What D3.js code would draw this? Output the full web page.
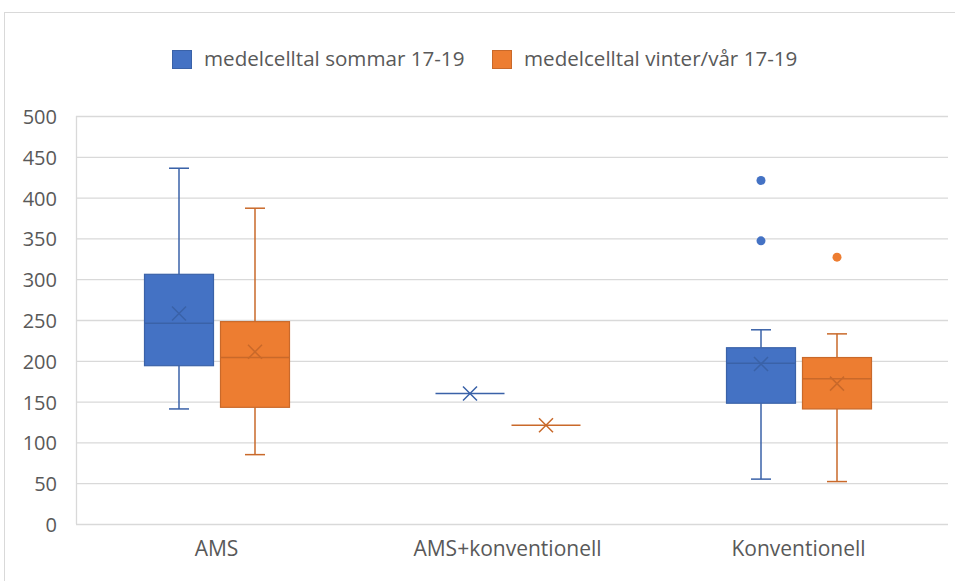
<!DOCTYPE html>
<html>
<head>
<meta charset="utf-8">
<script src="https://cdn.jsdelivr.net/npm/d3@7"></script>
<style>
  body { margin: 0; background: #fff; }
  svg text { font-family: "Open Sans", "Noto Sans", sans-serif; fill: #595959; }
</style>
</head>
<body>
<svg id="chart" width="955" height="581"></svg>
<script>
const categories = ["AMS", "AMS+konventionell", "Konventionell"];
const seriesNames = ["medelcelltal sommar 17-19", "medelcelltal vinter/vår 17-19"];
const yTicks = [0, 50, 100, 150, 200, 250, 300, 350, 400, 450, 500];

// per category: [min, q1, median, q3, max, mean]
const sommarStats = [
  [141, 194, 246, 306, 436, 258],
  [160, 160, 160, 160, 160, 160],
  [55, 148, 197, 216, 238, 196]
];
const vinterStats = [
  [85, 143, 204, 248, 387, 211],
  [121, 121, 121, 121, 121, 121],
  [52, 141, 178, 204, 233, 172]
];
const sommarOutliers = [[], [], [421, 347]];
const vinterOutliers = [[], [], [327]];

const fills = ["#4472C4", "#ED7D31"];
const strokes = ["#3A62A8", "#C9692A"];

const svg = d3.select("#chart");

// chart frame
svg.append("rect")
  .attr("x", 4.5).attr("y", 12.5)
  .attr("width", 1000).attr("height", 1000)
  .attr("fill", "none").attr("stroke", "#d9d9d9");

const plotLeft = 76, plotRight = 948;
const y = d3.scaleLinear().domain([0, 500]).range([524, 116]);
const x = d3.scaleBand().domain(categories).range([71, 944]);
const sub = d3.scaleBand().domain(seriesNames).range([-72, 73]).paddingInner(0.092);

// gridlines
svg.append("g").selectAll("line")
  .data(yTicks)
  .join("line")
  .attr("x1", plotLeft).attr("x2", plotRight)
  .attr("y1", d => y(d) + 0.5).attr("y2", d => y(d) + 0.5)
  .attr("stroke", "#d9d9d9").attr("stroke-width", 1.3);

svg.append("line")
  .attr("x1", plotLeft + 0.5).attr("x2", plotLeft + 0.5)
  .attr("y1", y(500)).attr("y2", y(0))
  .attr("stroke", "#d9d9d9").attr("stroke-width", 1.3);

// y axis labels
const yAxis = d3.axisLeft(y).tickValues(yTicks).tickSize(0).tickPadding(0);
const yg = svg.append("g").attr("transform", "translate(57,1)").call(yAxis);
yg.select(".domain").remove();
yg.selectAll("text").attr("font-size", 20).attr("fill", "#595959")
  .style("font-family", '"Open Sans", "Noto Sans", sans-serif');

// x axis labels
const xAxis = d3.axisBottom(x).tickSize(0).tickPadding(0);
const xg = svg.append("g").attr("transform", "translate(0,541)").call(xAxis);
xg.select(".domain").remove();
xg.selectAll("text").attr("font-size", 21).attr("fill", "#595959")
  .style("font-family", '"Open Sans", "Noto Sans", sans-serif');

const allStats = [sommarStats, vinterStats];
const allOutliers = [sommarOutliers, vinterOutliers];
const boxW = sub.bandwidth();
const capW = 20;

seriesNames.forEach((name, si) => {
  const g = svg.append("g");
  const stats = allStats[si];
  categories.forEach((cat, ci) => {
    const [mn, q1, med, q3, mx, mean] = stats[ci];
    const left = x(cat) + x.bandwidth() / 2 + sub(name);
    const cx = left + boxW / 2;
    const c = g.append("g");
    if (q1 === q3) {
      // single value: just a line
      c.append("line")
        .attr("x1", left).attr("x2", left + boxW)
        .attr("y1", y(med)).attr("y2", y(med))
        .attr("stroke", strokes[si]).attr("stroke-width", 1.5);
    } else {
      // whiskers
      c.append("line").attr("x1", cx).attr("x2", cx)
        .attr("y1", y(mx)).attr("y2", y(q3))
        .attr("stroke", strokes[si]).attr("stroke-width", 1.5);
      c.append("line").attr("x1", cx).attr("x2", cx)
        .attr("y1", y(q1)).attr("y2", y(mn))
        .attr("stroke", strokes[si]).attr("stroke-width", 1.5);
      [mn, mx].forEach(v => {
        c.append("line").attr("x1", cx - capW / 2).attr("x2", cx + capW / 2)
          .attr("y1", y(v)).attr("y2", y(v))
          .attr("stroke", strokes[si]).attr("stroke-width", 1.5);
      });
      c.append("rect")
        .attr("x", left).attr("y", y(q3))
        .attr("width", boxW).attr("height", y(q1) - y(q3))
        .attr("fill", fills[si]).attr("stroke", strokes[si]).attr("stroke-width", 1.2);
      c.append("line").attr("x1", left).attr("x2", left + boxW)
        .attr("y1", y(med)).attr("y2", y(med))
        .attr("stroke", strokes[si]).attr("stroke-width", 1.5);
    }
    // mean marker (x)
    const s = 7;
    c.append("path")
      .attr("d", `M${cx - s},${y(mean) - s}L${cx + s},${y(mean) + s}M${cx - s},${y(mean) + s}L${cx + s},${y(mean) - s}`)
      .attr("stroke", strokes[si]).attr("stroke-width", 1.5).attr("fill", "none");
    // outliers
    c.selectAll("circle")
      .data(allOutliers[si][ci])
      .join("circle")
      .attr("cx", cx).attr("cy", d => y(d)).attr("r", 4.5)
      .attr("fill", fills[si]);
  });
});

// legend
const legend = svg.append("g").attr("transform", "translate(172,50)");
const legendX = [0, 320];
seriesNames.forEach((name, i) => {
  const lg = legend.append("g").attr("transform", `translate(${legendX[i]},0)`);
  lg.append("rect").attr("x", 0.5).attr("y", 0.5).attr("width", 19).attr("height", 18)
    .attr("fill", fills[i]).attr("stroke", strokes[i]);
  lg.append("text").attr("x", 32).attr("y", 16).attr("font-size", 20.6).text(name);
});
</script>
</body>
</html>
